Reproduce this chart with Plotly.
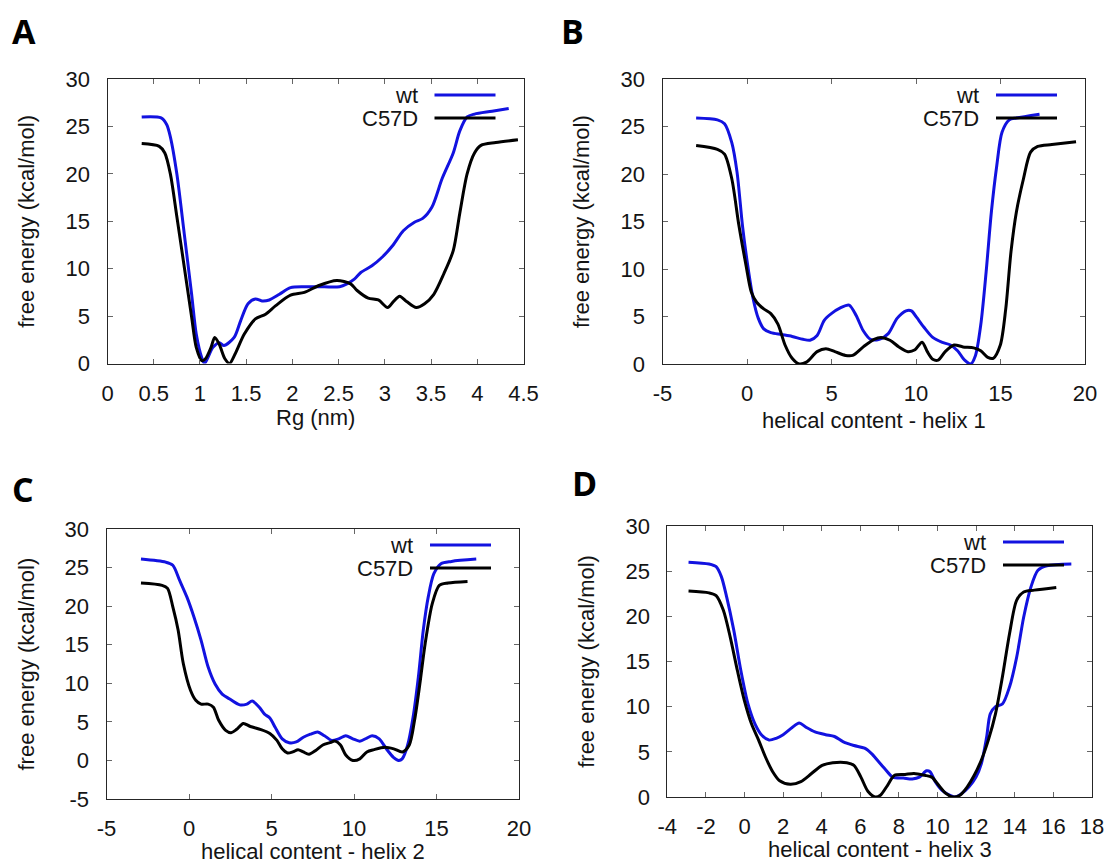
import plotly.graph_objects as go

W, H = 1112, 863

# ---- Panel A: radius of gyration ----
rg_wt_x = [0.37, 0.58, 0.64, 0.68, 0.75, 0.83, 0.91, 0.96, 1.02, 1.05, 1.14, 1.21, 1.26, 1.37, 1.44,
           1.52, 1.60, 1.67, 1.75, 1.86, 1.98, 2.13, 2.28, 2.51, 2.59, 2.67, 2.74, 2.86, 2.97, 3.09,
           3.20, 3.32, 3.41, 3.51, 3.62, 3.74, 3.81, 3.89, 3.97, 4.16, 4.34]
rg_wt_y = [26.0, 25.9, 25.2, 23.9, 20.0, 13.7, 7.3, 3.1, 0.6, 0.0, 1.7, 2.2, 1.9, 2.75, 4.5,
           6.3, 6.8, 6.6, 6.7, 7.3, 8.0, 8.1, 8.1, 8.1, 8.4, 8.9, 9.6, 10.3, 11.2, 12.5,
           14.0, 14.9, 15.3, 16.5, 19.5, 22.2, 24.5, 26.0, 26.3, 26.6, 26.9]
rg_mut_x = [0.37, 0.56, 0.62, 0.68, 0.75, 0.83, 0.91, 0.96, 1.02, 1.06, 1.12, 1.16, 1.21, 1.27, 1.32,
            1.38, 1.48, 1.60, 1.71, 1.82, 1.98, 2.13, 2.28, 2.48, 2.63, 2.70, 2.82, 2.93, 3.03, 3.09,
            3.16, 3.24, 3.34, 3.43, 3.53, 3.64, 3.74, 3.81, 3.89, 3.97, 4.04, 4.20, 4.44]
rg_mut_y = [23.2, 22.9, 22.2, 20.0, 15.5, 10.2, 4.9, 1.7, 0.3, 0.5, 1.7, 2.75, 2.0, 0.5, 0.0,
            1.0, 3.1, 4.7, 5.2, 6.1, 7.2, 7.5, 8.2, 8.75, 8.4, 7.7, 6.9, 6.7, 5.9, 6.5,
            7.1, 6.5, 5.9, 6.3, 7.3, 9.5, 11.9, 15.8, 20.0, 22.2, 23.0, 23.3, 23.6]

# ---- Panel B: helix 1 ----
h1_wt_x = [-3.01, -1.75, -1.33, -0.9, -0.59, -0.27, 0.04, 0.36, 0.67, 0.99, 1.41, 2.04, 2.67, 3.31, 3.73,
           4.15, 4.57, 4.99, 5.52, 6.04, 6.46, 6.88, 7.31, 7.83, 8.36, 8.88, 9.41, 9.73, 10.04, 10.46,
           10.99, 11.52, 12.04, 12.46, 12.88, 13.24, 13.52, 13.83, 14.15, 14.46, 14.78, 15.09, 15.52, 15.94, 17.31]
h1_wt_y = [25.9, 25.7, 25.3, 23.3, 20.2, 14.6, 10.4, 6.9, 4.8, 3.7, 3.3, 3.1, 2.9, 2.6, 2.5,
           3.0, 4.6, 5.3, 5.9, 6.2, 5.1, 3.5, 2.6, 2.6, 3.2, 4.8, 5.6, 5.6, 4.9, 3.9,
           2.8, 2.3, 2.0, 1.4, 0.4, 0.0, 0.9, 4.1, 9.7, 16.0, 20.9, 24.4, 25.7, 25.9, 26.3]
h1_mut_x = [-3.01, -1.75, -1.33, -0.9, -0.48, -0.06, 0.25, 0.57, 0.99, 1.41, 1.83, 2.25, 2.67, 3.09, 3.52,
            4.15, 4.67, 5.2, 5.83, 6.25, 6.88, 7.52, 7.94, 8.46, 8.99, 9.52, 9.94, 10.36, 10.67, 10.99,
            11.31, 11.73, 12.25, 12.78, 13.41, 13.83, 14.25, 14.57, 14.99, 15.31, 15.62, 15.94, 16.36, 16.78,
            17.2, 18.04, 19.47]
h1_mut_y = [23.0, 22.6, 22.1, 19.5, 14.6, 10.4, 7.6, 6.5, 5.8, 5.3, 4.2, 2.0, 0.6, 0.0, 0.2,
            1.3, 1.6, 1.3, 0.9, 0.9, 1.8, 2.6, 2.8, 2.5, 1.8, 1.3, 1.5, 2.3, 1.3, 0.5,
            0.4, 1.3, 2.0, 1.8, 1.7, 1.4, 0.7, 0.6, 2.0, 5.8, 11.8, 16.0, 19.5, 22.3,
            22.9, 23.1, 23.4]

# ---- Panel C: helix 2 ----
h2_wt_x = [-2.91, -1.41, -0.98, -0.56, -0.13, 0.30, 0.73, 1.16, 1.58, 2.01, 2.44, 3.08, 3.51, 3.83, 4.26,
           4.58, 4.90, 5.22, 5.65, 6.07, 6.50, 6.93, 7.36, 7.79, 8.21, 8.64, 9.07, 9.50, 9.93, 10.35,
           10.78, 11.10, 11.53, 11.96, 12.39, 12.71, 12.92, 13.24, 13.58, 13.90, 14.20, 14.50, 14.84, 15.27,
           15.91, 17.41]
h2_wt_y = [26.1, 25.7, 25.3, 23.3, 21.2, 18.6, 15.6, 12.1, 9.9, 8.6, 8.0, 7.2, 7.3, 7.7, 6.9,
           6.0, 5.5, 4.3, 2.8, 2.3, 2.4, 3.0, 3.4, 3.7, 3.2, 2.6, 2.8, 3.2, 2.8, 2.5,
           2.9, 3.2, 2.8, 1.5, 0.4, 0.0, 0.2, 1.9, 5.6, 10.8, 16.9, 21.2, 24.2, 25.5,
           25.8, 26.1]
h2_mut_x = [-2.91, -1.63, -1.30, -0.98, -0.66, -0.34, 0.09, 0.41, 0.73, 1.16, 1.48, 1.80, 2.22, 2.55, 2.87,
            3.29, 3.72, 4.36, 4.90, 5.33, 5.65, 5.97, 6.29, 6.61, 6.93, 7.27, 7.68, 8.11, 8.54, 8.86,
            9.18, 9.50, 9.93, 10.35, 10.78, 11.21, 11.87, 12.41, 12.94, 13.35, 13.67, 13.99, 14.31, 14.74,
            15.17, 15.70, 16.88]
h2_mut_y = [23.0, 22.7, 22.3, 19.9, 16.9, 12.5, 9.1, 7.8, 7.3, 7.3, 6.9, 5.2, 3.9, 3.6, 4.0,
            4.8, 4.4, 4.0, 3.5, 2.6, 1.5, 0.96, 1.1, 1.4, 1.1, 0.8, 1.3, 2.0, 2.3, 2.5,
            2.0, 0.7, 0.0, 0.2, 1.1, 1.4, 1.7, 1.5, 1.1, 2.0, 5.2, 9.9, 15.1, 20.3,
            22.7, 23.0, 23.2]

# ---- Panel D: helix 3 ----
h3_wt_x = [-2.9, -1.84, -1.47, -1.2, -0.92, -0.56, -0.19, 0.18, 0.54, 0.91, 1.27, 1.64, 2.0, 2.47, 2.83,
           3.2, 3.65, 4.2, 4.66, 5.12, 5.67, 6.22, 6.58, 6.95, 7.32, 7.68, 8.23, 8.69, 9.06, 9.43,
           9.61, 9.88, 10.25, 10.62, 10.89, 11.26, 11.62, 11.99, 12.27, 12.54, 12.73, 13.0, 13.36, 13.73,
           14.1, 14.46, 14.83, 15.2, 15.66, 16.93]
h3_wt_y = [26.0, 25.8, 25.5, 24.4, 22.1, 18.5, 14.0, 10.3, 8.1, 6.8, 6.3, 6.5, 6.9, 7.7, 8.2,
           7.7, 7.2, 6.9, 6.7, 6.1, 5.7, 5.4, 4.8, 3.9, 3.0, 2.2, 2.1, 2.0, 2.2, 2.9,
           2.8, 1.7, 0.7, 0.2, 0.0, 0.4, 1.1, 2.2, 3.7, 6.6, 9.2, 10.0, 10.3, 12.2,
           15.5, 19.9, 23.2, 25.1, 25.6, 25.8]
h3_mut_x = [-2.9, -1.84, -1.47, -1.1, -0.74, -0.37, -0.01, 0.36, 0.73, 1.09, 1.46, 1.82, 2.37, 2.92, 3.47,
            4.02, 4.57, 5.3, 5.67, 6.03, 6.4, 6.77, 7.04, 7.41, 7.77, 8.32, 8.78, 9.33, 9.7, 10.06,
            10.43, 10.8, 11.16, 11.53, 11.9, 12.27, 12.63, 13.0, 13.36, 13.73, 14.1, 14.46, 15.01, 16.15]
h3_mut_y = [22.8, 22.6, 22.3, 20.7, 17.7, 14.0, 10.7, 8.1, 6.3, 4.4, 2.8, 1.8, 1.4, 1.7, 2.6,
            3.5, 3.8, 3.8, 3.5, 2.2, 0.6, 0.0, 0.2, 1.3, 2.4, 2.5, 2.6, 2.4, 2.2, 1.3,
            0.4, 0.0, 0.2, 1.1, 2.4, 4.1, 6.3, 9.2, 13.3, 18.1, 21.8, 22.7, 22.9, 23.2]

series_names = ["wt", "C57D"]
x_titles = ["Rg (nm)", "helical content - helix 1", "helical content - helix 2", "helical content - helix 3"]
y_title = "free energy (kcal/mol)"
panel_letters = ["A", "B", "C", "D"]

# tick values / labels (plain hyphen for negatives)
x_tick_vals = [
    [0, 0.5, 1, 1.5, 2, 2.5, 3, 3.5, 4, 4.5],
    [-5, 0, 5, 10, 15, 20],
    [-5, 0, 5, 10, 15, 20],
    [-4, -2, 0, 2, 4, 6, 8, 10, 12, 14, 16, 18],
]
y_tick_vals = [
    [0, 5, 10, 15, 20, 25, 30],
    [0, 5, 10, 15, 20, 25, 30],
    [-5, 0, 5, 10, 15, 20, 25, 30],
    [0, 5, 10, 15, 20, 25, 30],
]
x_ranges = [[0, 4.5], [-5, 20], [-5, 20], [-4, 18]]
y_ranges = [[0, 30], [0, 30], [-5, 30], [0, 30]]

WT_COLOR = "#1212e0"
MUT_COLOR = "#000000"
FONT = "Liberation Sans, Arial, sans-serif"
TXT = "#141414"
FS = 22


def label(v):
    return "%g" % v


def px_x(v):
    return v / W


def px_y(v):
    return 1 - v / H


# panel frames in pixels: left, right, top, bottom
frames = [
    (107.5, 523.5, 79, 363.5),
    (662.5, 1085, 79, 364),
    (106.5, 519, 529, 799),
    (667.3, 1092, 526, 797),
]
letter_pos = [(24, 31), (572, 31), (23, 489), (584, 483)]
xtitle_y = [417, 420, 851, 849]

data = [
    (rg_wt_x, rg_wt_y, rg_mut_x, rg_mut_y),
    (h1_wt_x, h1_wt_y, h1_mut_x, h1_mut_y),
    (h2_wt_x, h2_wt_y, h2_mut_x, h2_mut_y),
    (h3_wt_x, h3_wt_y, h3_mut_x, h3_mut_y),
]

fig = go.Figure()

axis_common = dict(
    showline=True, linecolor="#262626", linewidth=1, mirror="ticks",
    ticks="inside", ticklen=5, tickwidth=1, tickcolor="#666",
    showgrid=False, zeroline=False, automargin=False,
    tickfont=dict(family=FONT, size=FS, color=TXT),
)

layout = dict(
    width=W, height=H, margin=dict(l=0, r=0, t=0, b=0, autoexpand=False),
    paper_bgcolor="white", plot_bgcolor="white", showlegend=False,
)

annotations = []
shapes = []

for i in range(4):
    n = "" if i == 0 else str(i + 1)
    xa, ya = "x" + n, "y" + n
    l, r, t, b = frames[i]
    wx, wy, mx, my = data[i]
    fig.add_trace(go.Scatter(x=wx, y=wy, mode="lines", name=series_names[0],
                             line=dict(color=WT_COLOR, width=3, shape="spline", smoothing=0.8),
                             xaxis=xa, yaxis=ya))
    fig.add_trace(go.Scatter(x=mx, y=my, mode="lines", name=series_names[1],
                             line=dict(color=MUT_COLOR, width=3, shape="spline", smoothing=0.8),
                             xaxis=xa, yaxis=ya))
    layout["xaxis" + n] = dict(axis_common, domain=[px_x(l), px_x(r)], range=x_ranges[i],
                               tickmode="array", tickvals=x_tick_vals[i],
                               ticktext=[label(v) for v in x_tick_vals[i]],
                               anchor=ya, ticklabelstandoff=10)
    layout["yaxis" + n] = dict(axis_common, domain=[px_y(b), px_y(t)], range=y_ranges[i],
                               tickmode="array", tickvals=y_tick_vals[i],
                               ticktext=[label(v) for v in y_tick_vals[i]],
                               anchor=xa, ticklabelstandoff=12)

    cx = (l + r) / 2
    # x-axis title
    annotations.append(dict(text=x_titles[i], x=px_x(cx), y=px_y(xtitle_y[i]), xref="paper", yref="paper",
                            showarrow=False, font=dict(family=FONT, size=FS, color=TXT),
                            xanchor="center", yanchor="middle"))
    # y-axis title
    annotations.append(dict(text=y_title, x=px_x(l - 81), y=px_y((t + b) / 2), xref="paper", yref="paper",
                            showarrow=False, textangle=-90, font=dict(family=FONT, size=FS, color=TXT),
                            xanchor="center", yanchor="middle"))
    # panel letter
    lx, ly = letter_pos[i]
    annotations.append(dict(text="<b>%s</b>" % panel_letters[i], x=px_x(lx), y=px_y(ly),
                            xref="paper", yref="paper", showarrow=False,
                            font=dict(family="Open Sans, Noto Sans, sans-serif", size=34, color="black"),
                            xanchor="center", yanchor="middle"))
    # key: label on the left, line sample on the right
    key_right = r - 28
    key_left = r - 89
    for k, (name, col) in enumerate(zip(series_names, [WT_COLOR, MUT_COLOR])):
        ky = t + 16 + k * 23
        annotations.append(dict(text=name, x=px_x(key_left - 15), y=px_y(ky), xref="paper", yref="paper",
                                showarrow=False, font=dict(family=FONT, size=FS, color=TXT),
                                xanchor="right", yanchor="middle"))
        shapes.append(dict(type="line", xref="paper", yref="paper",
                           x0=px_x(key_left), x1=px_x(key_right), y0=px_y(ky), y1=px_y(ky),
                           line=dict(color=col, width=3)))

layout["annotations"] = annotations
layout["shapes"] = shapes
fig.update_layout(**layout)

fig.write_html("out.html")
